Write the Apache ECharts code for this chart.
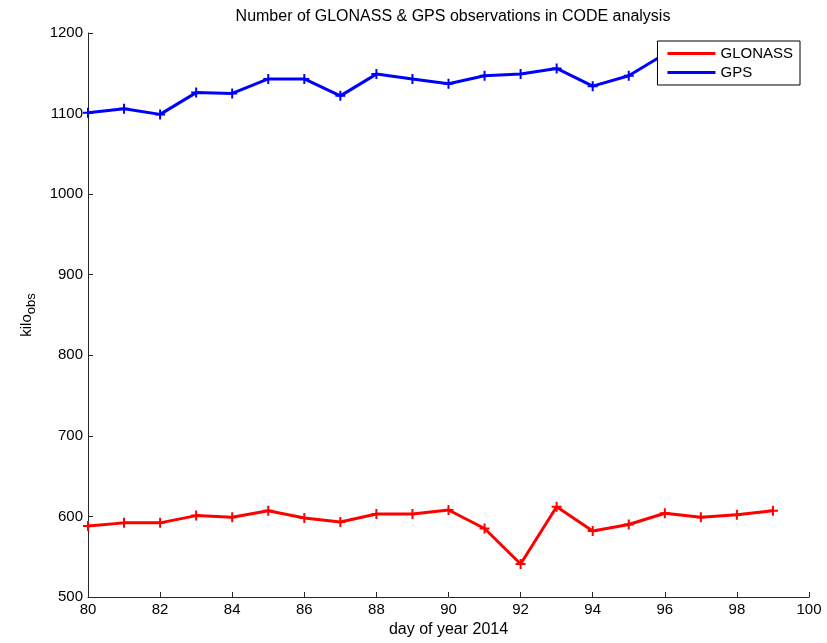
<!DOCTYPE html>
<html><head><meta charset="utf-8">
<script src="https://cdn.jsdelivr.net/npm/echarts@6/dist/echarts.min.js"></script>
<style>html,body{margin:0;padding:0;background:#fff}#c{width:827px;height:643px}</style>
</head><body><div id="c"></div>
<script>
const days = [80,81,82,83,84,85,86,87,88,89,90,91,92,93,94,95,96,97,98,99];
const glonass = [588,592,592,601,599,607,598,593,603,603,608,585,541,612,582,590,604,599,602,607];
const gps = [1101,1106,1099,1126,1125,1143,1143,1122,1149,1143,1137,1147,1149,1156,1134,1147,1174,1168,1170,1175];
const xTicks = [80,82,84,86,88,90,92,94,96,98,100];
const yTicks = [500,600,700,800,900,1000,1100,1200];

const plus = 'path://M4,0h2v4h4v2h-4v4h-2v-4h-4v-2h4z';
const font = 'Liberation Sans, Arial, sans-serif';
const chart = echarts.init(document.getElementById('c'));
function mk(name, data, color){
  return {name, type:'line', data: days.map((d,i)=>[d,data[i]]),
    symbol: plus, symbolSize: 10, showSymbol:true,
    itemStyle:{color}, lineStyle:{color, width:3}, animation:false};
}
chart.setOption({
  animation:false,
  title:{text:'Number of GLONASS & GPS observations in CODE analysis', left:448, top:4, textAlign:'center',
    textStyle:{fontFamily:font, fontSize:16, fontWeight:'normal', color:'#000'}},
  grid:{left:88, right:18, top:33, bottom:42},
  legend:{right:27, top:41, orient:'vertical', data:[{name:'GLONASS', icon:'rect'},{name:'GPS', icon:'rect'}],
    itemWidth:48, itemHeight:3, itemGap:4, padding:[5,7,5,10],
    borderColor:'#000', borderWidth:1, backgroundColor:'#fff',
    textStyle:{fontFamily:font, fontSize:15, lineHeight:15, color:'#000'}},
  xAxis:{type:'value', min:80, max:100, interval:2,
    name:'day of year 2014', nameLocation:'middle', nameGap:25,
    nameTextStyle:{fontFamily:font, fontSize:16, color:'#000'},
    axisLine:{onZero:false, lineStyle:{color:'#262626'}},
    axisTick:{inside:true, length:5, lineStyle:{color:'#262626'}},
    axisLabel:{fontFamily:font, fontSize:15, color:'#000', margin:5},
    splitLine:{show:false}},
  yAxis:{type:'value', min:500, max:1200, interval:100,
    name:'{a|kilo}{s|obs}', nameLocation:'middle', nameGap:50, nameRotate:90,
    nameTextStyle:{rich:{a:{fontFamily:font, fontSize:15, color:'#000'}, s:{fontFamily:font, fontSize:13, color:'#000', verticalAlign:'bottom', padding:[9,0,0,0]}}},
    axisLine:{show:true, lineStyle:{color:'#262626'}},
    axisTick:{show:true, inside:true, length:5, lineStyle:{color:'#262626'}},
    axisLabel:{fontFamily:font, fontSize:15, color:'#000', margin:5, formatter: v => String(v)},
    splitLine:{show:false}},
  series:[mk('GLONASS', glonass, '#ff0000'), mk('GPS', gps, '#0000ff')]
});
</script></body></html>
